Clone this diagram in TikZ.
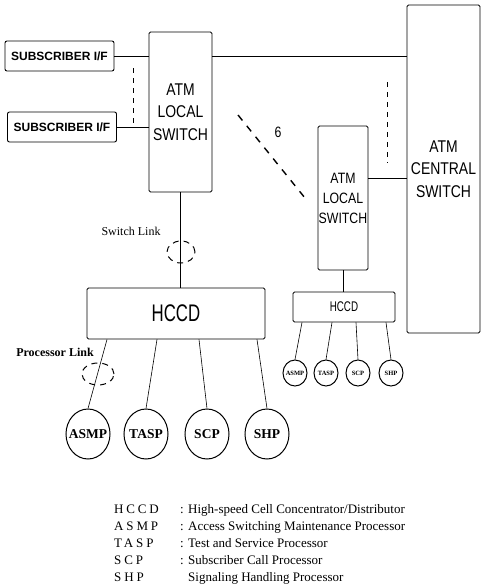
\documentclass[tikz,border=0pt]{standalone}
\usepackage{fontspec}
\setmainfont{Liberation Serif}
\setsansfont{Liberation Sans}
\newfontfamily\boxfont[FakeStretch=0.82]{Liberation Sans}
\newfontfamily\hccdfont[FakeStretch=0.7]{Liberation Sans}
\newfontfamily\abbrfont[LetterSpace=22]{Liberation Serif}
\usetikzlibrary{shapes.geometric}

\begin{document}
\begin{tikzpicture}[x=1pt,y=-1pt,
  box/.style={draw,line width=0.9pt,rounded corners=1.5pt,inner sep=0pt,align=center},
  subbox/.style={box,rounded corners=2pt,minimum width=109pt,minimum height=30pt,font=\sffamily\bfseries\fontsize{12}{14}\selectfont},
  switchbox/.style={box,font=\boxfont\fontsize{17}{22.5}\selectfont},
  proc/.style={ellipse,draw,line width=1pt,minimum width=44pt,minimum height=50pt,inner sep=0pt,label={[font=\bfseries\fontsize{13.5}{15}\selectfont]center:#1}},
  smallproc/.style={ellipse,draw,line width=1pt,minimum width=24pt,minimum height=26pt,inner sep=0pt,label={[font=\bfseries\fontsize{6.5}{7}\selectfont]center:#1}},
  ring/.style={ellipse,draw,dash pattern=on 6pt off 5pt,line width=1pt,inner sep=0pt},
  dashline/.style={dash pattern=on 5pt off 5pt,line width=1pt},
  link/.style={line width=0.6pt}]
\useasboundingbox (0,0) rectangle (482,587);

% switches and interfaces
\node[subbox] (sub1) at (59.5,56) {SUBSCRIBER I/F};
\node[subbox] (sub2) at (62,127) {SUBSCRIBER I/F};
\node[switchbox,minimum width=63pt,minimum height=160pt] (lsw) at (180.5,112) {ATM\\LOCAL\\SWITCH};
\node[switchbox,minimum width=73pt,minimum height=328pt] (csw) at (443.5,169) {ATM\\CENTRAL\\SWITCH};
\node[switchbox,minimum width=50pt,minimum height=144pt,font=\boxfont\fontsize{15}{20}\selectfont] (rsw) at (343,198) {ATM\\LOCAL\\SWITCH};
\node[box,minimum width=178pt,minimum height=51pt,font=\hccdfont\fontsize{24}{26}\selectfont] (lhccd) at (176,313.5) {HCCD};
\node[box,minimum width=102pt,minimum height=30pt,font=\hccdfont\fontsize{14}{16}\selectfont] (rhccd) at (344,307) {HCCD};

% processors
\node[proc=ASMP] (asmp) at (88,434) {};
\node[proc=TASP] (tasp) at (146,434) {};
\node[proc=SCP] (scp) at (207,434) {};
\node[proc=SHP] (shp) at (267,434) {};
\node[smallproc=ASMP] (asmp2) at (295,373) {};
\node[smallproc=TASP] (tasp2) at (326,373) {};
\node[smallproc=SCP] (scp2) at (358,373) {};
\node[smallproc=SHP] (shp2) at (391,373) {};

% links
\draw[link] (sub1.east) -- (sub1.east -| lsw.west);
\draw[link] (sub2.east) -- (sub2.east -| lsw.west);
\draw[link] (sub1.east -| lsw.east) -- (sub1.east -| csw.west);
\draw[link] ([yshift=20pt]rsw.east) -- ([yshift=20pt]rsw.east -| csw.west);
\draw[link] (lsw.south) -- (lsw.south |- lhccd.north);
\draw[link] (rsw.south) -- (rsw.south |- rhccd.north);
\draw[link] ([xshift=-69pt]lhccd.south) -- (asmp.north);
\draw[link] ([xshift=-19pt]lhccd.south) -- (tasp.north);
\draw[link] ([xshift=23pt]lhccd.south) -- (scp.north);
\draw[link] ([xshift=81pt]lhccd.south) -- (shp.north);
\draw[link] ([xshift=-42pt]rhccd.south) -- (asmp2.north);
\draw[link] ([xshift=-12pt]rhccd.south) -- (tasp2.north);
\draw[link] ([xshift=12pt]rhccd.south) -- (scp2.north);
\draw[link] ([xshift=42pt]rhccd.south) -- (shp2.north);

% dashed paths
\coordinate (d1) at (133,68);
\coordinate (d2) at (133,123);
\coordinate (d3) at (387,82);
\coordinate (d4) at (387,163);
\coordinate (d5) at (238,115);
\coordinate (d6) at (305,198);
\draw[dashline] (d1) -- (d2);
\draw[dashline] (d3) -- (d4);
\draw[dashline,line width=1.4pt,dash pattern=on 7pt off 7pt] (d5) -- (d6);
\node[font=\boxfont\fontsize{15}{17}\selectfont] (six) at (278,132) {6};

\node[ring,minimum width=28pt,minimum height=22pt] (swring) at (181,252) {};
\node[ring,minimum width=32pt,minimum height=22pt] (prring) at (98,374) {};
\node[font=\fontsize{12}{14}\selectfont] (swlabel) at (131,231) {Switch Link};
\node[font=\bfseries\fontsize{12}{14}\selectfont] (prlabel) at (55,352) {Processor Link};

% legend
\node[anchor=north west,inner sep=0pt,font=\fontsize{13}{17}\selectfont] (legend) at (114,501) {%
\begin{tabular}{@{}p{66pt}@{}p{8pt}@{}l@{}}
{\abbrfont HCCD} & : & High-speed Cell Concentrator/Distributor\\
{\abbrfont ASMP} & : & Access Switching Maintenance Processor\\
{\abbrfont TASP} & : & Test and Service Processor\\
{\abbrfont SCP}  & : & Subscriber Call Processor\\
{\abbrfont SHP}  &   & Signaling Handling Processor
\end{tabular}};
\end{tikzpicture}
\end{document}
